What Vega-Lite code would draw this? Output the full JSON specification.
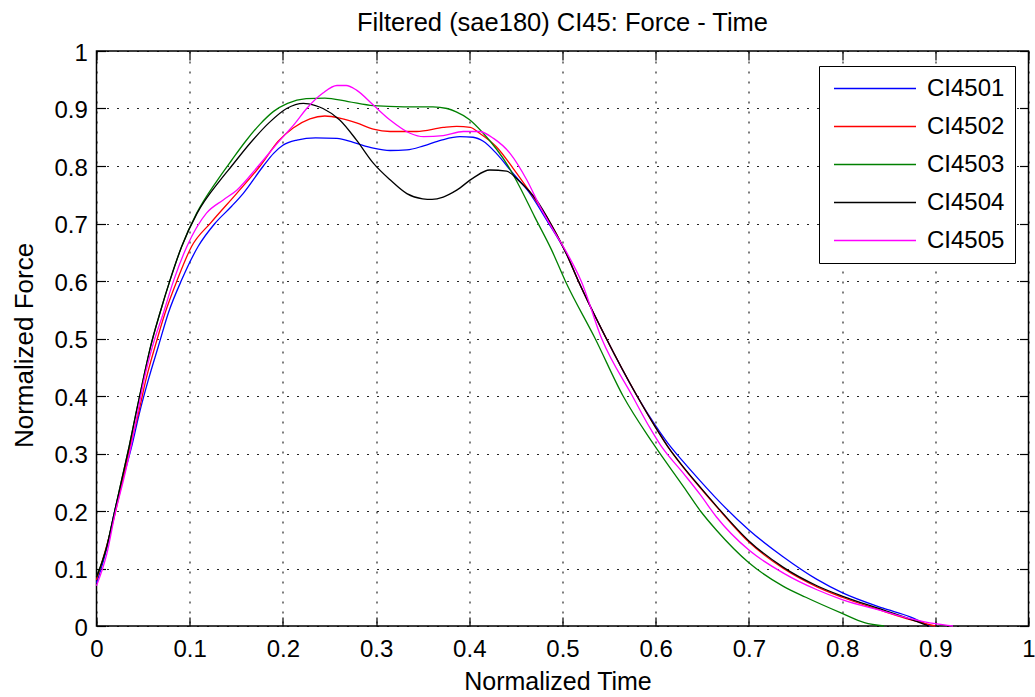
{
  "$schema": "https://vega.github.io/schema/vega-lite/v6.json",
  "width": 932,
  "height": 575,
  "autosize": {"type": "none"},
  "padding": {"left": 96.5, "top": 51, "right": 6.5, "bottom": 71},
  "background": "white",
  "title": {"text": "Filtered (sae180) CI45: Force - Time", "font": "Liberation Sans", "fontSize": 25.5, "fontWeight": "normal", "color": "black", "anchor": "middle", "offset": 5},
  "config": {"view": {"stroke": "black", "strokeWidth": 1.5}},
  "datasets": {
    "curves": [
      {"s":"CI4501","t":0,"f":0.075},{"s":"CI4501","t":0.011,"f":0.135},{"s":"CI4501","t":0.019,"f":0.196},{"s":"CI4501","t":0.028,"f":0.254},{"s":"CI4501","t":0.0377,"f":0.312},{"s":"CI4501","t":0.046,"f":0.37},{"s":"CI4501","t":0.0556,"f":0.428},{"s":"CI4501","t":0.0663,"f":0.486},{"s":"CI4501","t":0.077,"f":0.544},{"s":"CI4501","t":0.0914,"f":0.602},{"s":"CI4501","t":0.109,"f":0.66},{"s":"CI4501","t":0.127,"f":0.7},{"s":"CI4501","t":0.145,"f":0.73},{"s":"CI4501","t":0.1575,"f":0.7525},{"s":"CI4501","t":0.179,"f":0.8},{"s":"CI4501","t":0.19,"f":0.822},{"s":"CI4501","t":0.2,"f":0.836},{"s":"CI4501","t":0.215,"f":0.845},{"s":"CI4501","t":0.235,"f":0.849},{"s":"CI4501","t":0.258,"f":0.848},{"s":"CI4501","t":0.2755,"f":0.841},{"s":"CI4501","t":0.297,"f":0.831},{"s":"CI4501","t":0.315,"f":0.827},{"s":"CI4501","t":0.333,"f":0.828},{"s":"CI4501","t":0.351,"f":0.835},{"s":"CI4501","t":0.37,"f":0.845},{"s":"CI4501","t":0.39,"f":0.851},{"s":"CI4501","t":0.404,"f":0.85},{"s":"CI4501","t":0.415,"f":0.843},{"s":"CI4501","t":0.429,"f":0.822},{"s":"CI4501","t":0.447,"f":0.787},{"s":"CI4501","t":0.465,"f":0.7525},{"s":"CI4501","t":0.483,"f":0.706},{"s":"CI4501","t":0.504,"f":0.648},{"s":"CI4501","t":0.517,"f":0.6},{"s":"CI4501","t":0.547,"f":0.5},{"s":"CI4501","t":0.58,"f":0.4},{"s":"CI4501","t":0.6,"f":0.348},{"s":"CI4501","t":0.613,"f":0.318},{"s":"CI4501","t":0.63,"f":0.285},{"s":"CI4501","t":0.648,"f":0.252},{"s":"CI4501","t":0.665,"f":0.222},{"s":"CI4501","t":0.7,"f":0.167},{"s":"CI4501","t":0.737,"f":0.12},{"s":"CI4501","t":0.773,"f":0.081},{"s":"CI4501","t":0.8,"f":0.058},{"s":"CI4501","t":0.844,"f":0.031},{"s":"CI4501","t":0.873,"f":0.016},{"s":"CI4501","t":0.894,"f":0},
      {"s":"CI4502","t":0,"f":0.08},{"s":"CI4502","t":0.011,"f":0.14},{"s":"CI4502","t":0.02,"f":0.196},{"s":"CI4502","t":0.028,"f":0.254},{"s":"CI4502","t":0.036,"f":0.312},{"s":"CI4502","t":0.045,"f":0.37},{"s":"CI4502","t":0.053,"f":0.428},{"s":"CI4502","t":0.0628,"f":0.486},{"s":"CI4502","t":0.0735,"f":0.544},{"s":"CI4502","t":0.0867,"f":0.602},{"s":"CI4502","t":0.102,"f":0.66},{"s":"CI4502","t":0.123,"f":0.702},{"s":"CI4502","t":0.1505,"f":0.7525},{"s":"CI4502","t":0.1755,"f":0.8},{"s":"CI4502","t":0.195,"f":0.843},{"s":"CI4502","t":0.211,"f":0.866},{"s":"CI4502","t":0.229,"f":0.882},{"s":"CI4502","t":0.245,"f":0.887},{"s":"CI4502","t":0.262,"f":0.883},{"s":"CI4502","t":0.279,"f":0.875},{"s":"CI4502","t":0.297,"f":0.864},{"s":"CI4502","t":0.315,"f":0.86},{"s":"CI4502","t":0.3435,"f":0.86},{"s":"CI4502","t":0.372,"f":0.867},{"s":"CI4502","t":0.3865,"f":0.869},{"s":"CI4502","t":0.401,"f":0.867},{"s":"CI4502","t":0.411,"f":0.857},{"s":"CI4502","t":0.429,"f":0.8335},{"s":"CI4502","t":0.447,"f":0.796},{"s":"CI4502","t":0.465,"f":0.755},{"s":"CI4502","t":0.483,"f":0.712},{"s":"CI4502","t":0.504,"f":0.648},{"s":"CI4502","t":0.517,"f":0.6},{"s":"CI4502","t":0.547,"f":0.5},{"s":"CI4502","t":0.58,"f":0.4},{"s":"CI4502","t":0.6,"f":0.345},{"s":"CI4502","t":0.613,"f":0.312},{"s":"CI4502","t":0.63,"f":0.275},{"s":"CI4502","t":0.648,"f":0.24},{"s":"CI4502","t":0.665,"f":0.208},{"s":"CI4502","t":0.7,"f":0.146},{"s":"CI4502","t":0.737,"f":0.1},{"s":"CI4502","t":0.773,"f":0.068},{"s":"CI4502","t":0.8,"f":0.05},{"s":"CI4502","t":0.844,"f":0.026},{"s":"CI4502","t":0.873,"f":0.011},{"s":"CI4502","t":0.9,"f":0},
      {"s":"CI4503","t":0,"f":0.085},{"s":"CI4503","t":0.011,"f":0.138},{"s":"CI4503","t":0.019,"f":0.196},{"s":"CI4503","t":0.027,"f":0.254},{"s":"CI4503","t":0.035,"f":0.312},{"s":"CI4503","t":0.0424,"f":0.37},{"s":"CI4503","t":0.05,"f":0.428},{"s":"CI4503","t":0.058,"f":0.486},{"s":"CI4503","t":0.068,"f":0.544},{"s":"CI4503","t":0.079,"f":0.602},{"s":"CI4503","t":0.0914,"f":0.66},{"s":"CI4503","t":0.1075,"f":0.718},{"s":"CI4503","t":0.13,"f":0.776},{"s":"CI4503","t":0.145,"f":0.81},{"s":"CI4503","t":0.16,"f":0.843},{"s":"CI4503","t":0.175,"f":0.872},{"s":"CI4503","t":0.19,"f":0.895},{"s":"CI4503","t":0.205,"f":0.909},{"s":"CI4503","t":0.225,"f":0.917},{"s":"CI4503","t":0.245,"f":0.918},{"s":"CI4503","t":0.27,"f":0.912},{"s":"CI4503","t":0.297,"f":0.905},{"s":"CI4503","t":0.33,"f":0.903},{"s":"CI4503","t":0.361,"f":0.903},{"s":"CI4503","t":0.376,"f":0.9},{"s":"CI4503","t":0.386,"f":0.894},{"s":"CI4503","t":0.4,"f":0.881},{"s":"CI4503","t":0.415,"f":0.857},{"s":"CI4503","t":0.442,"f":0.799},{"s":"CI4503","t":0.454,"f":0.764},{"s":"CI4503","t":0.47,"f":0.712},{"s":"CI4503","t":0.488,"f":0.655},{"s":"CI4503","t":0.503,"f":0.6},{"s":"CI4503","t":0.535,"f":0.5},{"s":"CI4503","t":0.565,"f":0.4},{"s":"CI4503","t":0.597,"f":0.318},{"s":"CI4503","t":0.63,"f":0.242},{"s":"CI4503","t":0.648,"f":0.2},{"s":"CI4503","t":0.665,"f":0.167},{"s":"CI4503","t":0.7,"f":0.11},{"s":"CI4503","t":0.737,"f":0.069},{"s":"CI4503","t":0.761,"f":0.05},{"s":"CI4503","t":0.8,"f":0.022},{"s":"CI4503","t":0.824,"f":0.006},{"s":"CI4503","t":0.845,"f":0},
      {"s":"CI4504","t":0,"f":0.085},{"s":"CI4504","t":0.011,"f":0.138},{"s":"CI4504","t":0.019,"f":0.196},{"s":"CI4504","t":0.027,"f":0.254},{"s":"CI4504","t":0.035,"f":0.312},{"s":"CI4504","t":0.0424,"f":0.37},{"s":"CI4504","t":0.05,"f":0.428},{"s":"CI4504","t":0.058,"f":0.486},{"s":"CI4504","t":0.068,"f":0.544},{"s":"CI4504","t":0.079,"f":0.602},{"s":"CI4504","t":0.0914,"f":0.66},{"s":"CI4504","t":0.108,"f":0.718},{"s":"CI4504","t":0.133,"f":0.776},{"s":"CI4504","t":0.145,"f":0.8},{"s":"CI4504","t":0.165,"f":0.84},{"s":"CI4504","t":0.185,"f":0.875},{"s":"CI4504","t":0.204,"f":0.9},{"s":"CI4504","t":0.222,"f":0.909},{"s":"CI4504","t":0.235,"f":0.905},{"s":"CI4504","t":0.243,"f":0.9},{"s":"CI4504","t":0.261,"f":0.88},{"s":"CI4504","t":0.279,"f":0.845},{"s":"CI4504","t":0.297,"f":0.805},{"s":"CI4504","t":0.315,"f":0.776},{"s":"CI4504","t":0.333,"f":0.752},{"s":"CI4504","t":0.35,"f":0.743},{"s":"CI4504","t":0.36,"f":0.742},{"s":"CI4504","t":0.372,"f":0.746},{"s":"CI4504","t":0.3865,"f":0.758},{"s":"CI4504","t":0.404,"f":0.779},{"s":"CI4504","t":0.422,"f":0.793},{"s":"CI4504","t":0.44,"f":0.791},{"s":"CI4504","t":0.454,"f":0.773},{"s":"CI4504","t":0.472,"f":0.741},{"s":"CI4504","t":0.49,"f":0.692},{"s":"CI4504","t":0.504,"f":0.648},{"s":"CI4504","t":0.517,"f":0.6},{"s":"CI4504","t":0.547,"f":0.5},{"s":"CI4504","t":0.58,"f":0.4},{"s":"CI4504","t":0.6,"f":0.345},{"s":"CI4504","t":0.613,"f":0.312},{"s":"CI4504","t":0.63,"f":0.276},{"s":"CI4504","t":0.648,"f":0.241},{"s":"CI4504","t":0.665,"f":0.209},{"s":"CI4504","t":0.7,"f":0.148},{"s":"CI4504","t":0.737,"f":0.102},{"s":"CI4504","t":0.773,"f":0.07},{"s":"CI4504","t":0.8,"f":0.052},{"s":"CI4504","t":0.844,"f":0.028},{"s":"CI4504","t":0.873,"f":0.012},{"s":"CI4504","t":0.893,"f":0},
      {"s":"CI4505","t":0,"f":0.07},{"s":"CI4505","t":0.011,"f":0.125},{"s":"CI4505","t":0.02,"f":0.196},{"s":"CI4505","t":0.029,"f":0.254},{"s":"CI4505","t":0.037,"f":0.312},{"s":"CI4505","t":0.044,"f":0.37},{"s":"CI4505","t":0.051,"f":0.428},{"s":"CI4505","t":0.06,"f":0.486},{"s":"CI4505","t":0.0717,"f":0.544},{"s":"CI4505","t":0.083,"f":0.602},{"s":"CI4505","t":0.097,"f":0.66},{"s":"CI4505","t":0.118,"f":0.718},{"s":"CI4505","t":0.136,"f":0.741},{"s":"CI4505","t":0.1505,"f":0.758},{"s":"CI4505","t":0.1736,"f":0.8},{"s":"CI4505","t":0.197,"f":0.845},{"s":"CI4505","t":0.213,"f":0.874},{"s":"CI4505","t":0.2255,"f":0.9},{"s":"CI4505","t":0.243,"f":0.927},{"s":"CI4505","t":0.258,"f":0.94},{"s":"CI4505","t":0.268,"f":0.94},{"s":"CI4505","t":0.279,"f":0.932},{"s":"CI4505","t":0.297,"f":0.906},{"s":"CI4505","t":0.315,"f":0.88},{"s":"CI4505","t":0.3364,"f":0.857},{"s":"CI4505","t":0.351,"f":0.851},{"s":"CI4505","t":0.372,"f":0.853},{"s":"CI4505","t":0.3936,"f":0.86},{"s":"CI4505","t":0.411,"f":0.86},{"s":"CI4505","t":0.426,"f":0.848},{"s":"CI4505","t":0.4437,"f":0.822},{"s":"CI4505","t":0.4616,"f":0.776},{"s":"CI4505","t":0.476,"f":0.729},{"s":"CI4505","t":0.49,"f":0.689},{"s":"CI4505","t":0.506,"f":0.645},{"s":"CI4505","t":0.52,"f":0.6},{"s":"CI4505","t":0.542,"f":0.5},{"s":"CI4505","t":0.575,"f":0.4},{"s":"CI4505","t":0.594,"f":0.344},{"s":"CI4505","t":0.605,"f":0.315},{"s":"CI4505","t":0.63,"f":0.265},{"s":"CI4505","t":0.648,"f":0.228},{"s":"CI4505","t":0.665,"f":0.19},{"s":"CI4505","t":0.7,"f":0.132},{"s":"CI4505","t":0.737,"f":0.092},{"s":"CI4505","t":0.773,"f":0.063},{"s":"CI4505","t":0.8,"f":0.046},{"s":"CI4505","t":0.844,"f":0.026},{"s":"CI4505","t":0.873,"f":0.013},{"s":"CI4505","t":0.9,"f":0.004},{"s":"CI4505","t":0.919,"f":0}
    ]
  },
  "data": {"name": "curves"},
  "layer": [
    {
      "mark": {"type": "line", "interpolate": "monotone", "strokeWidth": 1.3},
      "encoding": {
        "x": {"field": "t", "type": "quantitative", "scale": {"domain": [0, 1], "nice": false, "zero": false},
          "axis": {"orient": "bottom", "values": [0,0.1,0.2,0.3,0.4,0.5,0.6,0.7,0.8,0.9,1], "format": "~g",
            "labelFont": "Liberation Sans", "labelFontSize": 24, "labelColor": "black", "labelFlush": false,
            "ticks": true, "tickSize": -9, "tickColor": "black", "tickWidth": 1.2, "labelPadding": 20.5,
            "domain": false, "grid": true, "gridColor": "black", "gridDash": [2, 8], "gridWidth": 1.2, "gridOpacity": 0.85,
            "title": "Normalized Time", "titleFont": "Liberation Sans", "titleFontSize": 25, "titleFontWeight": "normal", "titleColor": "black",
            "titleBaseline": "alphabetic", "titleX": 461, "titleY": 63.3}},
        "y": {"field": "f", "type": "quantitative", "scale": {"domain": [0, 1], "nice": false, "zero": false},
          "axis": {"orient": "left", "values": [0,0.1,0.2,0.3,0.4,0.5,0.6,0.7,0.8,0.9,1], "format": "~g",
            "labelFont": "Liberation Sans", "labelFontSize": 24, "labelColor": "black", "labelFlush": false, "labelOffset": 2,
            "ticks": true, "tickSize": -9, "tickColor": "black", "tickWidth": 1.2, "labelPadding": 18.2,
            "domain": false, "grid": true, "gridColor": "black", "gridDash": [2, 8], "gridWidth": 1.2, "gridOpacity": 0.85,
            "title": "Normalized Force", "titleFont": "Liberation Sans", "titleFontSize": 26, "titleFontWeight": "normal", "titleColor": "black",
            "titleBaseline": "alphabetic", "titleX": -64.5, "titleY": 294}},
        "color": {"field": "s", "type": "nominal",
          "scale": {"domain": ["CI4501", "CI4502", "CI4503", "CI4504", "CI4505"], "range": ["#0000ff", "#ff0000", "#008000", "#000000", "#ff00ff"]},
          "legend": {"orient": "none", "legendX": 722.5, "legendY": 15, "title": null, "symbolType": "M-0.75,0L7.45,0", "symbolSize": 400, "symbolStrokeWidth": 1.5,
            "labelFont": "Liberation Sans", "labelFontSize": 24, "labelColor": "black", "labelOffset": 73.5, "rowPadding": 14, "padding": 10.5,
            "strokeColor": "black", "fillColor": "white"}}
      }
    },
    {
      "mark": {"type": "line", "strokeOpacity": 0},
      "encoding": {
        "x": {"field": "t", "type": "quantitative", "axis": {"orient": "top", "values": [0,0.1,0.2,0.3,0.4,0.5,0.6,0.7,0.8,0.9,1], "labels": false, "grid": false, "domain": false, "ticks": true, "tickSize": -9, "tickColor": "black", "tickWidth": 1.2, "title": null}},
        "y": {"field": "f", "type": "quantitative", "axis": {"orient": "right", "values": [0,0.1,0.2,0.3,0.4,0.5,0.6,0.7,0.8,0.9,1], "labels": false, "grid": false, "domain": false, "ticks": true, "tickSize": -9, "tickColor": "black", "tickWidth": 1.2, "title": null}}
      }
    }
  ],
  "resolve": {"axis": {"x": "independent", "y": "independent"}}
}
